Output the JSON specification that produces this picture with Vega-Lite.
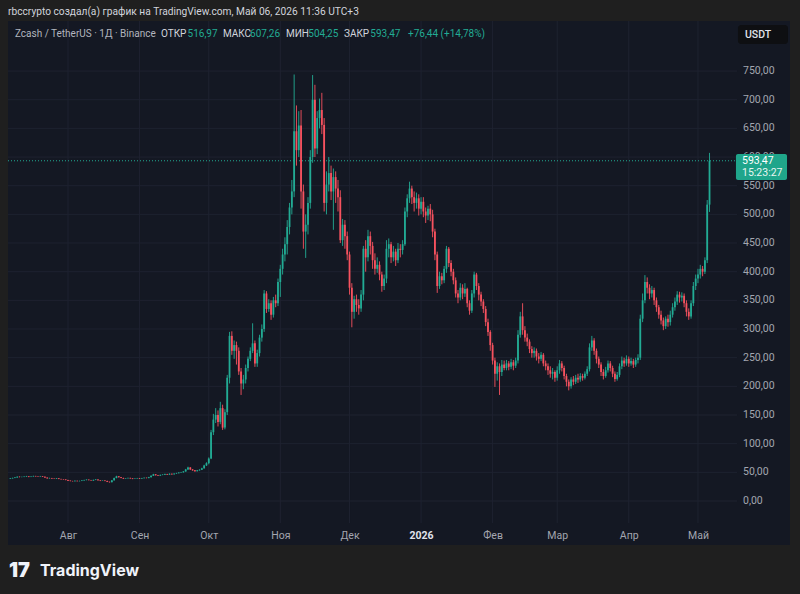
{
"$schema": "https://vega.github.io/schema/vega-lite/v6.json",
"width": 782, "height": 524,
"autosize": {"type": "none"},
"padding": {"left": 8, "top": 21, "right": 10, "bottom": 49},
"background": "#1f1f1f",
"config": {"view": {"fill": "#141823", "stroke": null},
 "axis": {"grid": false, "domain": false, "ticks": false, "labelFont": "Roboto", "labelFontSize": 10.5, "labelColor": "#a3a6af", "labelOverlap": false},
 "scale": {"continuousPadding": 0},
 "locale": {"number": {"decimal": ",", "thousands": " ", "grouping": [3], "currency": ["", ""]}}},
"datasets": {
"candles": [
{"d":"2025-07-07","o":38.8,"h":40.2,"l":38.3,"c":39.5},
{"d":"2025-07-08","o":39.5,"h":40.8,"l":39.0,"c":40.2},
{"d":"2025-07-09","o":40.2,"h":41.6,"l":39.8,"c":41.0},
{"d":"2025-07-10","o":41.0,"h":43.0,"l":40.6,"c":42.3},
{"d":"2025-07-11","o":42.3,"h":42.9,"l":41.2,"c":41.8},
{"d":"2025-07-12","o":41.8,"h":42.6,"l":41.3,"c":42.0},
{"d":"2025-07-13","o":42.0,"h":43.1,"l":41.6,"c":42.5},
{"d":"2025-07-14","o":42.5,"h":43.8,"l":42.0,"c":43.0},
{"d":"2025-07-15","o":43.0,"h":43.4,"l":41.5,"c":42.1},
{"d":"2025-07-16","o":42.1,"h":43.3,"l":41.7,"c":42.8},
{"d":"2025-07-17","o":42.8,"h":44.2,"l":42.4,"c":43.5},
{"d":"2025-07-18","o":43.5,"h":44.0,"l":42.5,"c":43.0},
{"d":"2025-07-19","o":43.0,"h":43.4,"l":42.1,"c":42.6},
{"d":"2025-07-20","o":42.6,"h":43.8,"l":42.2,"c":43.2},
{"d":"2025-07-21","o":43.2,"h":43.6,"l":41.9,"c":42.5},
{"d":"2025-07-22","o":42.5,"h":42.8,"l":40.2,"c":40.8},
{"d":"2025-07-23","o":40.8,"h":41.2,"l":39.0,"c":39.5},
{"d":"2025-07-24","o":39.5,"h":40.6,"l":39.1,"c":40.0},
{"d":"2025-07-25","o":40.0,"h":40.3,"l":38.7,"c":39.2},
{"d":"2025-07-26","o":39.2,"h":39.6,"l":38.3,"c":38.8},
{"d":"2025-07-27","o":38.8,"h":40.1,"l":38.5,"c":39.6},
{"d":"2025-07-28","o":39.6,"h":39.9,"l":38.0,"c":38.5},
{"d":"2025-07-29","o":38.5,"h":38.9,"l":37.3,"c":37.8},
{"d":"2025-07-30","o":37.8,"h":38.3,"l":37.0,"c":37.5},
{"d":"2025-07-31","o":37.5,"h":37.9,"l":36.1,"c":36.6},
{"d":"2025-08-01","o":36.6,"h":37.0,"l":35.0,"c":35.5},
{"d":"2025-08-02","o":35.5,"h":35.9,"l":34.3,"c":34.8},
{"d":"2025-08-03","o":34.8,"h":35.2,"l":34.0,"c":34.5},
{"d":"2025-08-04","o":34.5,"h":35.8,"l":34.1,"c":35.2},
{"d":"2025-08-05","o":35.2,"h":35.6,"l":34.1,"c":34.6},
{"d":"2025-08-06","o":34.6,"h":35.5,"l":34.2,"c":35.0},
{"d":"2025-08-07","o":35.0,"h":36.3,"l":34.7,"c":35.8},
{"d":"2025-08-08","o":35.8,"h":37.1,"l":35.4,"c":36.5},
{"d":"2025-08-09","o":36.5,"h":37.8,"l":36.1,"c":37.2},
{"d":"2025-08-10","o":37.2,"h":37.6,"l":35.9,"c":36.4},
{"d":"2025-08-11","o":36.4,"h":36.8,"l":35.1,"c":35.6},
{"d":"2025-08-12","o":35.6,"h":37.3,"l":35.3,"c":36.8},
{"d":"2025-08-13","o":36.8,"h":38.2,"l":36.4,"c":37.5},
{"d":"2025-08-14","o":37.5,"h":37.8,"l":35.5,"c":36.0},
{"d":"2025-08-15","o":36.0,"h":36.4,"l":34.7,"c":35.2},
{"d":"2025-08-16","o":35.2,"h":36.0,"l":34.9,"c":35.6},
{"d":"2025-08-17","o":35.6,"h":35.9,"l":34.5,"c":35.0},
{"d":"2025-08-18","o":35.0,"h":35.3,"l":33.0,"c":33.5},
{"d":"2025-08-19","o":33.5,"h":33.9,"l":32.2,"c":32.8},
{"d":"2025-08-20","o":32.8,"h":36.5,"l":32.5,"c":36.0},
{"d":"2025-08-21","o":36.0,"h":40.8,"l":35.7,"c":40.0},
{"d":"2025-08-22","o":40.0,"h":44.0,"l":39.6,"c":43.0},
{"d":"2025-08-23","o":43.0,"h":43.5,"l":41.0,"c":41.5},
{"d":"2025-08-24","o":41.5,"h":41.9,"l":39.7,"c":40.2},
{"d":"2025-08-25","o":40.2,"h":40.6,"l":38.5,"c":39.0},
{"d":"2025-08-26","o":39.0,"h":40.0,"l":38.6,"c":39.5},
{"d":"2025-08-27","o":39.5,"h":40.9,"l":39.1,"c":40.3},
{"d":"2025-08-28","o":40.3,"h":40.6,"l":38.9,"c":39.4},
{"d":"2025-08-29","o":39.4,"h":39.8,"l":38.1,"c":38.6},
{"d":"2025-08-30","o":38.6,"h":39.7,"l":38.3,"c":39.2},
{"d":"2025-08-31","o":39.2,"h":40.3,"l":38.9,"c":39.8},
{"d":"2025-09-01","o":39.8,"h":40.2,"l":38.5,"c":39.0},
{"d":"2025-09-02","o":39.0,"h":40.3,"l":38.7,"c":39.8},
{"d":"2025-09-03","o":39.8,"h":41.1,"l":39.4,"c":40.5},
{"d":"2025-09-04","o":40.5,"h":40.9,"l":39.5,"c":40.0},
{"d":"2025-09-05","o":40.0,"h":42.1,"l":39.7,"c":41.5},
{"d":"2025-09-06","o":41.5,"h":44.7,"l":41.2,"c":44.0},
{"d":"2025-09-07","o":44.0,"h":47.4,"l":43.6,"c":46.5},
{"d":"2025-09-08","o":46.5,"h":46.9,"l":44.4,"c":45.0},
{"d":"2025-09-09","o":45.0,"h":45.5,"l":43.6,"c":44.2},
{"d":"2025-09-10","o":44.2,"h":46.1,"l":43.9,"c":45.5},
{"d":"2025-09-11","o":45.5,"h":46.7,"l":45.0,"c":46.0},
{"d":"2025-09-12","o":46.0,"h":47.7,"l":45.6,"c":47.0},
{"d":"2025-09-13","o":47.0,"h":47.4,"l":45.4,"c":46.0},
{"d":"2025-09-14","o":46.0,"h":48.1,"l":45.7,"c":47.5},
{"d":"2025-09-15","o":47.5,"h":47.9,"l":45.9,"c":46.5},
{"d":"2025-09-16","o":46.5,"h":48.4,"l":46.1,"c":47.8},
{"d":"2025-09-17","o":47.8,"h":49.2,"l":47.3,"c":48.5},
{"d":"2025-09-18","o":48.5,"h":50.3,"l":48.1,"c":49.5},
{"d":"2025-09-19","o":49.5,"h":50.8,"l":49.0,"c":50.0},
{"d":"2025-09-20","o":50.0,"h":52.3,"l":49.6,"c":51.5},
{"d":"2025-09-21","o":51.5,"h":56.0,"l":51.0,"c":55.0},
{"d":"2025-09-22","o":55.0,"h":59.8,"l":54.5,"c":58.5},
{"d":"2025-09-23","o":58.5,"h":59.0,"l":54.2,"c":55.0},
{"d":"2025-09-24","o":55.0,"h":55.6,"l":52.7,"c":53.5},
{"d":"2025-09-25","o":53.5,"h":54.0,"l":51.2,"c":52.0},
{"d":"2025-09-26","o":52.0,"h":54.2,"l":51.5,"c":53.5},
{"d":"2025-09-27","o":53.5,"h":55.3,"l":53.0,"c":54.5},
{"d":"2025-09-28","o":54.5,"h":58.0,"l":54.0,"c":57.0},
{"d":"2025-09-29","o":57.0,"h":63.2,"l":56.5,"c":62.0},
{"d":"2025-09-30","o":62.0,"h":67.5,"l":61.0,"c":66.0},
{"d":"2025-10-01","o":66,"h":76,"l":64,"c":74},
{"d":"2025-10-02","o":74,"h":124,"l":73,"c":120},
{"d":"2025-10-03","o":120,"h":152,"l":115,"c":142},
{"d":"2025-10-04","o":142,"h":162,"l":136,"c":150},
{"d":"2025-10-05","o":150,"h":158,"l":130,"c":138},
{"d":"2025-10-06","o":138,"h":173,"l":134,"c":162},
{"d":"2025-10-07","o":162,"h":168,"l":124,"c":128},
{"d":"2025-10-08","o":128,"h":160,"l":125,"c":155},
{"d":"2025-10-09","o":155,"h":220,"l":150,"c":215},
{"d":"2025-10-10","o":215,"h":295,"l":205,"c":288},
{"d":"2025-10-11","o":288,"h":296,"l":255,"c":262},
{"d":"2025-10-12","o":262,"h":280,"l":248,"c":272},
{"d":"2025-10-13","o":272,"h":278,"l":238,"c":262},
{"d":"2025-10-14","o":262,"h":268,"l":220,"c":226},
{"d":"2025-10-15","o":226,"h":232,"l":185,"c":205},
{"d":"2025-10-16","o":205,"h":220,"l":195,"c":212},
{"d":"2025-10-17","o":212,"h":238,"l":205,"c":232},
{"d":"2025-10-18","o":232,"h":252,"l":226,"c":248},
{"d":"2025-10-19","o":248,"h":268,"l":244,"c":262},
{"d":"2025-10-20","o":262,"h":310,"l":258,"c":275},
{"d":"2025-10-21","o":275,"h":280,"l":234,"c":240},
{"d":"2025-10-22","o":240,"h":264,"l":234,"c":258},
{"d":"2025-10-23","o":258,"h":290,"l":252,"c":285},
{"d":"2025-10-24","o":285,"h":308,"l":278,"c":300},
{"d":"2025-10-25","o":300,"h":368,"l":295,"c":362},
{"d":"2025-10-26","o":362,"h":366,"l":328,"c":335},
{"d":"2025-10-27","o":335,"h":352,"l":330,"c":345},
{"d":"2025-10-28","o":345,"h":350,"l":316,"c":325},
{"d":"2025-10-29","o":325,"h":356,"l":320,"c":350},
{"d":"2025-10-30","o":350,"h":360,"l":338,"c":345},
{"d":"2025-10-31","o":345,"h":388,"l":340,"c":382},
{"d":"2025-11-01","o":382,"h":412,"l":356,"c":405},
{"d":"2025-11-02","o":405,"h":440,"l":395,"c":430},
{"d":"2025-11-03","o":430,"h":460,"l":418,"c":448},
{"d":"2025-11-04","o":448,"h":490,"l":430,"c":478},
{"d":"2025-11-05","o":478,"h":520,"l":465,"c":512},
{"d":"2025-11-06","o":512,"h":560,"l":500,"c":540},
{"d":"2025-11-07","o":540,"h":744,"l":530,"c":645},
{"d":"2025-11-08","o":645,"h":690,"l":585,"c":612},
{"d":"2025-11-09","o":612,"h":680,"l":600,"c":655},
{"d":"2025-11-10","o":655,"h":682,"l":510,"c":540},
{"d":"2025-11-11","o":540,"h":552,"l":440,"c":470},
{"d":"2025-11-12","o":470,"h":500,"l":424,"c":482},
{"d":"2025-11-13","o":482,"h":530,"l":465,"c":520},
{"d":"2025-11-14","o":520,"h":612,"l":510,"c":600},
{"d":"2025-11-15","o":600,"h":743,"l":590,"c":700},
{"d":"2025-11-16","o":700,"h":726,"l":600,"c":615},
{"d":"2025-11-17","o":615,"h":680,"l":605,"c":668},
{"d":"2025-11-18","o":668,"h":702,"l":650,"c":682},
{"d":"2025-11-19","o":682,"h":712,"l":640,"c":656},
{"d":"2025-11-20","o":656,"h":668,"l":505,"c":520},
{"d":"2025-11-21","o":520,"h":575,"l":500,"c":552},
{"d":"2025-11-22","o":552,"h":600,"l":540,"c":572},
{"d":"2025-11-23","o":572,"h":585,"l":525,"c":540},
{"d":"2025-11-24","o":540,"h":580,"l":473,"c":565},
{"d":"2025-11-25","o":565,"h":575,"l":520,"c":545},
{"d":"2025-11-26","o":545,"h":560,"l":505,"c":530},
{"d":"2025-11-27","o":530,"h":542,"l":450,"c":455},
{"d":"2025-11-28","o":455,"h":492,"l":445,"c":482},
{"d":"2025-11-29","o":482,"h":490,"l":440,"c":462},
{"d":"2025-11-30","o":462,"h":470,"l":420,"c":430},
{"d":"2025-12-01","o":430,"h":435,"l":360,"c":372},
{"d":"2025-12-02","o":372,"h":380,"l":303,"c":330},
{"d":"2025-12-03","o":330,"h":358,"l":318,"c":352},
{"d":"2025-12-04","o":352,"h":360,"l":330,"c":342},
{"d":"2025-12-05","o":342,"h":352,"l":325,"c":336},
{"d":"2025-12-06","o":336,"h":368,"l":330,"c":360},
{"d":"2025-12-07","o":360,"h":445,"l":350,"c":440},
{"d":"2025-12-08","o":440,"h":455,"l":400,"c":425},
{"d":"2025-12-09","o":425,"h":473,"l":418,"c":462},
{"d":"2025-12-10","o":462,"h":470,"l":430,"c":445},
{"d":"2025-12-11","o":445,"h":452,"l":405,"c":420},
{"d":"2025-12-12","o":420,"h":432,"l":395,"c":405},
{"d":"2025-12-13","o":405,"h":425,"l":398,"c":412},
{"d":"2025-12-14","o":412,"h":418,"l":385,"c":395},
{"d":"2025-12-15","o":395,"h":400,"l":365,"c":375},
{"d":"2025-12-16","o":375,"h":395,"l":368,"c":388},
{"d":"2025-12-17","o":388,"h":455,"l":380,"c":440},
{"d":"2025-12-18","o":440,"h":458,"l":425,"c":448},
{"d":"2025-12-19","o":448,"h":452,"l":415,"c":425},
{"d":"2025-12-20","o":425,"h":445,"l":418,"c":435},
{"d":"2025-12-21","o":435,"h":440,"l":410,"c":420},
{"d":"2025-12-22","o":420,"h":450,"l":415,"c":440},
{"d":"2025-12-23","o":440,"h":448,"l":425,"c":438},
{"d":"2025-12-24","o":438,"h":455,"l":430,"c":448},
{"d":"2025-12-25","o":448,"h":512,"l":445,"c":505},
{"d":"2025-12-26","o":505,"h":535,"l":495,"c":528},
{"d":"2025-12-27","o":528,"h":557,"l":520,"c":545},
{"d":"2025-12-28","o":545,"h":550,"l":518,"c":530},
{"d":"2025-12-29","o":530,"h":540,"l":505,"c":520},
{"d":"2025-12-30","o":520,"h":538,"l":510,"c":528},
{"d":"2025-12-31","o":528,"h":535,"l":498,"c":510},
{"d":"2026-01-01","o":510,"h":530,"l":500,"c":522},
{"d":"2026-01-02","o":522,"h":530,"l":495,"c":505},
{"d":"2026-01-03","o":505,"h":512,"l":485,"c":498},
{"d":"2026-01-04","o":498,"h":515,"l":490,"c":510},
{"d":"2026-01-05","o":510,"h":518,"l":488,"c":500},
{"d":"2026-01-06","o":500,"h":508,"l":460,"c":470},
{"d":"2026-01-07","o":470,"h":475,"l":420,"c":430},
{"d":"2026-01-08","o":430,"h":435,"l":363,"c":375},
{"d":"2026-01-09","o":375,"h":400,"l":370,"c":392},
{"d":"2026-01-10","o":392,"h":398,"l":378,"c":385},
{"d":"2026-01-11","o":385,"h":410,"l":380,"c":405},
{"d":"2026-01-12","o":405,"h":445,"l":398,"c":440},
{"d":"2026-01-13","o":440,"h":443,"l":408,"c":415},
{"d":"2026-01-14","o":415,"h":420,"l":392,"c":400},
{"d":"2026-01-15","o":400,"h":405,"l":378,"c":385},
{"d":"2026-01-16","o":385,"h":390,"l":355,"c":362},
{"d":"2026-01-17","o":362,"h":368,"l":345,"c":355},
{"d":"2026-01-18","o":355,"h":380,"l":350,"c":372},
{"d":"2026-01-19","o":372,"h":378,"l":352,"c":362},
{"d":"2026-01-20","o":362,"h":380,"l":356,"c":370},
{"d":"2026-01-21","o":370,"h":372,"l":338,"c":345},
{"d":"2026-01-22","o":345,"h":350,"l":325,"c":332},
{"d":"2026-01-23","o":332,"h":368,"l":328,"c":362},
{"d":"2026-01-24","o":362,"h":400,"l":355,"c":395},
{"d":"2026-01-25","o":395,"h":398,"l":368,"c":375},
{"d":"2026-01-26","o":375,"h":380,"l":350,"c":360},
{"d":"2026-01-27","o":360,"h":365,"l":340,"c":348},
{"d":"2026-01-28","o":348,"h":352,"l":328,"c":335},
{"d":"2026-01-29","o":335,"h":340,"l":305,"c":312},
{"d":"2026-01-30","o":312,"h":318,"l":288,"c":295},
{"d":"2026-01-31","o":295,"h":298,"l":262,"c":272},
{"d":"2026-02-01","o":272,"h":276,"l":238,"c":245},
{"d":"2026-02-02","o":245,"h":250,"l":199,"c":222},
{"d":"2026-02-03","o":222,"h":242,"l":210,"c":235},
{"d":"2026-02-04","o":235,"h":240,"l":185,"c":225},
{"d":"2026-02-05","o":225,"h":246,"l":218,"c":238},
{"d":"2026-02-06","o":238,"h":245,"l":228,"c":232},
{"d":"2026-02-07","o":232,"h":246,"l":228,"c":240},
{"d":"2026-02-08","o":240,"h":244,"l":228,"c":234},
{"d":"2026-02-09","o":234,"h":248,"l":230,"c":242},
{"d":"2026-02-10","o":242,"h":246,"l":228,"c":236},
{"d":"2026-02-11","o":236,"h":250,"l":232,"c":245},
{"d":"2026-02-12","o":245,"h":298,"l":240,"c":290},
{"d":"2026-02-13","o":290,"h":330,"l":285,"c":322},
{"d":"2026-02-14","o":322,"h":345,"l":290,"c":298},
{"d":"2026-02-15","o":298,"h":305,"l":278,"c":285},
{"d":"2026-02-16","o":285,"h":292,"l":270,"c":278},
{"d":"2026-02-17","o":278,"h":282,"l":258,"c":265},
{"d":"2026-02-18","o":265,"h":270,"l":250,"c":258},
{"d":"2026-02-19","o":258,"h":268,"l":250,"c":262},
{"d":"2026-02-20","o":262,"h":266,"l":245,"c":252},
{"d":"2026-02-21","o":252,"h":258,"l":240,"c":248},
{"d":"2026-02-22","o":248,"h":260,"l":244,"c":255},
{"d":"2026-02-23","o":255,"h":258,"l":235,"c":240},
{"d":"2026-02-24","o":240,"h":245,"l":228,"c":235},
{"d":"2026-02-25","o":235,"h":240,"l":220,"c":228},
{"d":"2026-02-26","o":228,"h":235,"l":215,"c":222},
{"d":"2026-02-27","o":222,"h":232,"l":212,"c":225},
{"d":"2026-02-28","o":225,"h":228,"l":208,"c":215},
{"d":"2026-03-01","o":215,"h":235,"l":210,"c":228},
{"d":"2026-03-02","o":228,"h":246,"l":222,"c":240},
{"d":"2026-03-03","o":240,"h":244,"l":226,"c":232},
{"d":"2026-03-04","o":232,"h":236,"l":212,"c":218},
{"d":"2026-03-05","o":218,"h":222,"l":200,"c":208},
{"d":"2026-03-06","o":208,"h":212,"l":193,"c":200},
{"d":"2026-03-07","o":200,"h":216,"l":196,"c":212},
{"d":"2026-03-08","o":212,"h":218,"l":202,"c":208},
{"d":"2026-03-09","o":208,"h":220,"l":204,"c":215},
{"d":"2026-03-10","o":215,"h":222,"l":206,"c":212},
{"d":"2026-03-11","o":212,"h":223,"l":208,"c":218},
{"d":"2026-03-12","o":218,"h":222,"l":210,"c":215},
{"d":"2026-03-13","o":215,"h":226,"l":212,"c":222},
{"d":"2026-03-14","o":222,"h":235,"l":218,"c":230},
{"d":"2026-03-15","o":230,"h":275,"l":226,"c":268},
{"d":"2026-03-16","o":268,"h":288,"l":262,"c":280},
{"d":"2026-03-17","o":280,"h":284,"l":255,"c":262},
{"d":"2026-03-18","o":262,"h":266,"l":240,"c":248},
{"d":"2026-03-19","o":248,"h":252,"l":232,"c":238},
{"d":"2026-03-20","o":238,"h":242,"l":218,"c":225},
{"d":"2026-03-21","o":225,"h":230,"l":212,"c":218},
{"d":"2026-03-22","o":218,"h":234,"l":215,"c":228},
{"d":"2026-03-23","o":228,"h":245,"l":224,"c":240},
{"d":"2026-03-24","o":240,"h":244,"l":226,"c":232},
{"d":"2026-03-25","o":232,"h":236,"l":216,"c":222},
{"d":"2026-03-26","o":222,"h":226,"l":208,"c":213},
{"d":"2026-03-27","o":213,"h":225,"l":210,"c":220},
{"d":"2026-03-28","o":220,"h":240,"l":216,"c":235},
{"d":"2026-03-29","o":235,"h":252,"l":230,"c":245},
{"d":"2026-03-30","o":245,"h":250,"l":234,"c":240},
{"d":"2026-03-31","o":240,"h":254,"l":236,"c":248},
{"d":"2026-04-01","o":248,"h":252,"l":234,"c":240},
{"d":"2026-04-02","o":240,"h":250,"l":236,"c":244},
{"d":"2026-04-03","o":244,"h":248,"l":232,"c":238},
{"d":"2026-04-04","o":238,"h":250,"l":234,"c":246},
{"d":"2026-04-05","o":246,"h":256,"l":240,"c":250},
{"d":"2026-04-06","o":250,"h":325,"l":246,"c":318},
{"d":"2026-04-07","o":318,"h":362,"l":312,"c":350},
{"d":"2026-04-08","o":350,"h":394,"l":345,"c":382},
{"d":"2026-04-09","o":382,"h":390,"l":362,"c":372},
{"d":"2026-04-10","o":372,"h":378,"l":352,"c":362},
{"d":"2026-04-11","o":362,"h":375,"l":355,"c":368},
{"d":"2026-04-12","o":368,"h":372,"l":342,"c":350},
{"d":"2026-04-13","o":350,"h":355,"l":330,"c":338},
{"d":"2026-04-14","o":338,"h":342,"l":318,"c":325},
{"d":"2026-04-15","o":325,"h":332,"l":308,"c":315},
{"d":"2026-04-16","o":315,"h":320,"l":298,"c":305},
{"d":"2026-04-17","o":305,"h":322,"l":300,"c":318},
{"d":"2026-04-18","o":318,"h":325,"l":304,"c":312},
{"d":"2026-04-19","o":312,"h":332,"l":306,"c":325},
{"d":"2026-04-20","o":325,"h":345,"l":320,"c":338},
{"d":"2026-04-21","o":338,"h":355,"l":332,"c":348},
{"d":"2026-04-22","o":348,"h":366,"l":342,"c":360},
{"d":"2026-04-23","o":360,"h":365,"l":346,"c":355},
{"d":"2026-04-24","o":355,"h":364,"l":348,"c":358},
{"d":"2026-04-25","o":358,"h":362,"l":338,"c":345},
{"d":"2026-04-26","o":345,"h":350,"l":322,"c":330},
{"d":"2026-04-27","o":330,"h":336,"l":316,"c":322},
{"d":"2026-04-28","o":322,"h":350,"l":318,"c":345},
{"d":"2026-04-29","o":345,"h":382,"l":340,"c":375},
{"d":"2026-04-30","o":375,"h":395,"l":368,"c":388},
{"d":"2026-05-01","o":388,"h":405,"l":380,"c":395},
{"d":"2026-05-02","o":395,"h":412,"l":388,"c":405},
{"d":"2026-05-03","o":405,"h":410,"l":392,"c":400},
{"d":"2026-05-04","o":400,"h":425,"l":396,"c":420},
{"d":"2026-05-05","o":420,"h":525,"l":415,"c":516.97},
{"d":"2026-05-06","o":516.97,"h":607.26,"l":504.25,"c":593.47}
],
"hgrid": [{"p":0},{"p":50},{"p":100},{"p":150},{"p":200},{"p":250},{"p":300},{"p":350},{"p":400},{"p":450},{"p":500},{"p":550},{"p":600},{"p":650},{"p":700},{"p":750}],
"vgrid": [{"d":"2025-08-01"},{"d":"2025-09-01"},{"d":"2025-10-01"},{"d":"2025-11-01"},{"d":"2025-12-01"},{"d":"2026-01-01"},{"d":"2026-02-01"},{"d":"2026-03-01"},{"d":"2026-04-01"},{"d":"2026-05-01"}]
},
"layer": [
{"data": {"name": "hgrid"}, "mark": {"type": "rule", "color": "#1e2230", "strokeWidth": 1},
 "encoding": {"y": {"field": "p", "type": "quantitative", "title": null, "axis": null},
  "x": {"datum": {"year": 2025, "month": 7, "date": 6, "utc": true}, "scale": {"type": "utc"}, "title": null},
  "x2": {"datum": {"year": 2026, "month": 5, "date": 17, "hours": 22, "utc": true}}}},
{"data": {"name": "vgrid"}, "mark": {"type": "rule", "color": "#1e2230", "strokeWidth": 1},
 "encoding": {"x": {"field": "d", "type": "temporal", "scale": {"type": "utc"}, "title": null},
  "y": {"datum": -38.4, "title": null, "axis": null}, "y2": {"datum": 837.3}}},
{"data": {"values": [{}]}, "mark": {"type": "rule", "color": "#22ab94", "strokeWidth": 1, "strokeDash": [1, 2]},
 "encoding": {"y": {"datum": 593.47, "title": null, "axis": null},
  "x": {"datum": {"year": 2025, "month": 7, "date": 6, "utc": true}, "scale": {"type": "utc"}, "title": null},
  "x2": {"datum": {"year": 2026, "month": 5, "date": 17, "hours": 11, "utc": true}}}},
{"data": {"name": "candles"}, "mark": {"type": "rule", "strokeWidth": 0.9},
 "encoding": {"x": {"field": "d", "type": "temporal", "scale": {"type": "utc"}, "title": null},
  "y": {"field": "l", "type": "quantitative", "title": null, "axis": null}, "y2": {"field": "h"},
  "color": {"condition": {"test": "datum.o <= datum.c", "value": "#22ab94"}, "value": "#f7525f"}}},
{"data": {"name": "candles"}, "mark": {"type": "bar", "size": 1.8},
 "encoding": {
  "x": {"field": "d", "type": "temporal", "title": null,
   "scale": {"type": "utc", "padding": 0, "nice": false, "domain": [{"year": 2025, "month": 7, "date": 6, "utc": true}, {"year": 2026, "month": 6, "date": 9, "hours": 21, "utc": true}]},
   "axis": {"orient": "bottom", "offset": -15, "title": null, "grid": false, "domain": false, "ticks": false, "labelPadding": 0,
    "values": [{"year": 2025, "month": 8, "date": 1, "utc": true}, {"year": 2025, "month": 9, "date": 1, "utc": true}, {"year": 2025, "month": 10, "date": 1, "utc": true}, {"year": 2025, "month": 11, "date": 1, "utc": true}, {"year": 2025, "month": 12, "date": 1, "utc": true}, {"year": 2026, "month": 1, "date": 1, "utc": true}, {"year": 2026, "month": 2, "date": 1, "utc": true}, {"year": 2026, "month": 3, "date": 1, "utc": true}, {"year": 2026, "month": 4, "date": 1, "utc": true}, {"year": 2026, "month": 5, "date": 1, "utc": true}],
    "labelExpr": "utcmonth(datum.value) == 0 ? '' + utcyear(datum.value) : ['Янв','Фев','Мар','Апр','Май','Июн','Июл','Авг','Сен','Окт','Ноя','Дек'][utcmonth(datum.value)]",
    "labelFont": "Roboto", "labelFontSize": 10.5, "labelOverlap": false, "labelFlush": false, "labelBound": false, "labelBaseline": "top",
    "labelColor": {"condition": {"test": "utcmonth(datum.value) == 0", "value": "#e0e3eb"}, "value": "#a3a6af"},
    "labelFontWeight": {"condition": {"test": "utcmonth(datum.value) == 0", "value": "bold"}, "value": "normal"}}},
  "y": {"field": "o", "type": "quantitative", "title": null, "axis": null,
   "scale": {"domain": [-76.75, 837.3], "nice": false, "zero": false, "padding": 0}},
  "y2": {"field": "c"},
  "color": {"condition": {"test": "datum.o <= datum.c", "value": "#22ab94"}, "value": "#f7525f"}}},
{"data": {"name": "hgrid"}, "mark": {"type": "text", "align": "left", "baseline": "middle", "font": "Roboto", "fontSize": 10.5, "color": "#a3a6af"},
 "encoding": {"y": {"field": "p", "type": "quantitative", "title": null, "axis": null},
  "x": {"datum": {"year": 2026, "month": 5, "date": 20, "hours": 12, "utc": true}, "scale": {"type": "utc"}, "title": null},
  "text": {"field": "p", "type": "quantitative", "format": ".2f"}}},
{"data": {"values": [{}]}, "mark": {"type": "rect", "color": "#1fa58b", "cornerRadius": 2},
 "encoding": {"x": {"datum": {"year": 2026, "month": 5, "date": 17, "hours": 11, "utc": true}, "scale": {"type": "utc"}, "title": null},
  "x2": {"datum": {"year": 2026, "month": 6, "date": 8, "hours": 14, "utc": true}},
  "y": {"datum": 605.3, "title": null, "axis": null}, "y2": {"datum": 559.9}}},
{"data": {"values": [{}]}, "mark": {"type": "text", "align": "left", "baseline": "middle", "font": "Roboto", "fontSize": 10.5, "color": "#ffffff"},
 "encoding": {"x": {"datum": {"year": 2026, "month": 5, "date": 20, "hours": 2, "utc": true}, "scale": {"type": "utc"}, "title": null},
  "y": {"datum": 593.5, "title": null, "axis": null}, "text": {"value": "593,47"}}},
{"data": {"values": [{}]}, "mark": {"type": "text", "align": "left", "baseline": "middle", "font": "Roboto", "fontSize": 10.5, "color": "#e8f5f1"},
 "encoding": {"x": {"datum": {"year": 2026, "month": 5, "date": 20, "hours": 2, "utc": true}, "scale": {"type": "utc"}, "title": null},
  "y": {"datum": 572.2, "title": null, "axis": null}, "text": {"value": "15:23:27"}}},
{"data": {"values": [{}]}, "mark": {"type": "rect", "color": "#0e0f12", "cornerRadius": 3},
 "encoding": {"x": {"datum": {"year": 2026, "month": 5, "date": 18, "hours": 8, "utc": true}, "scale": {"type": "utc"}, "title": null},
  "x2": {"datum": {"year": 2026, "month": 6, "date": 9, "utc": true}},
  "y": {"datum": 830.3, "title": null, "axis": null}, "y2": {"datum": 797.2}}},
{"data": {"values": [{}]}, "mark": {"type": "text", "align": "left", "baseline": "middle", "font": "Roboto", "fontSize": 10.5, "fontWeight": 500, "color": "#e0e3eb"},
 "encoding": {"x": {"datum": {"year": 2026, "month": 5, "date": 21, "hours": 9, "utc": true}, "scale": {"type": "utc"}, "title": null},
  "y": {"datum": 813, "title": null, "axis": null}, "text": {"value": "USDT"}}},
{"data": {"values": [{}]}, "mark": {"type": "text", "align": "left", "baseline": "middle", "font": "Roboto", "fontSize": 10.2, "color": "#d1d4dc"},
 "encoding": {"x": {"datum": {"year": 2025, "month": 7, "date": 6, "utc": true}, "scale": {"type": "utc"}, "title": null},
  "y": {"datum": 853, "title": null, "axis": null}, "text": {"value": "rbccrypto создал(а) график на TradingView.com, Май 06, 2026 11:36 UTC+3"}}},
{"data": {"values": [{}]}, "mark": {"type": "text", "align": "left", "baseline": "middle", "font": "Roboto", "fontSize": 10, "color": "#b2b5be"},
 "encoding": {"x": {"datum": {"year": 2025, "month": 7, "date": 9, "utc": true}, "scale": {"type": "utc"}, "title": null},
  "y": {"datum": 814, "title": null, "axis": null}, "text": {"value": "Zcash / TetherUS · 1Д · Binance"}}},
{"data": {"values": [{}]}, "mark": {"type": "text", "align": "left", "baseline": "middle", "font": "Roboto", "fontSize": 10, "color": "#d1d4dc"},
 "encoding": {"x": {"datum": {"year": 2025, "month": 9, "date": 10, "hours": 7, "utc": true}, "scale": {"type": "utc"}, "title": null},
  "y": {"datum": 814, "title": null, "axis": null}, "text": {"value": "ОТКР"}}},
{"data": {"values": [{}]}, "mark": {"type": "text", "align": "left", "baseline": "middle", "font": "Roboto", "fontSize": 10, "color": "#22ab94"},
 "encoding": {"x": {"datum": {"year": 2025, "month": 9, "date": 21, "hours": 19, "utc": true}, "scale": {"type": "utc"}, "title": null},
  "y": {"datum": 814, "title": null, "axis": null}, "text": {"value": "516,97"}}},
{"data": {"values": [{}]}, "mark": {"type": "text", "align": "left", "baseline": "middle", "font": "Roboto", "fontSize": 10, "color": "#d1d4dc"},
 "encoding": {"x": {"datum": {"year": 2025, "month": 10, "date": 7, "hours": 4, "utc": true}, "scale": {"type": "utc"}, "title": null},
  "y": {"datum": 814, "title": null, "axis": null}, "text": {"value": "МАКС"}}},
{"data": {"values": [{}]}, "mark": {"type": "text", "align": "left", "baseline": "middle", "font": "Roboto", "fontSize": 10, "color": "#22ab94"},
 "encoding": {"x": {"datum": {"year": 2025, "month": 10, "date": 18, "hours": 21, "utc": true}, "scale": {"type": "utc"}, "title": null},
  "y": {"datum": 814, "title": null, "axis": null}, "text": {"value": "607,26"}}},
{"data": {"values": [{}]}, "mark": {"type": "text", "align": "left", "baseline": "middle", "font": "Roboto", "fontSize": 10, "color": "#d1d4dc"},
 "encoding": {"x": {"datum": {"year": 2025, "month": 11, "date": 3, "hours": 11, "utc": true}, "scale": {"type": "utc"}, "title": null},
  "y": {"datum": 814, "title": null, "axis": null}, "text": {"value": "МИН"}}},
{"data": {"values": [{}]}, "mark": {"type": "text", "align": "left", "baseline": "middle", "font": "Roboto", "fontSize": 10, "color": "#22ab94"},
 "encoding": {"x": {"datum": {"year": 2025, "month": 11, "date": 13, "hours": 3, "utc": true}, "scale": {"type": "utc"}, "title": null},
  "y": {"datum": 814, "title": null, "axis": null}, "text": {"value": "504,25"}}},
{"data": {"values": [{}]}, "mark": {"type": "text", "align": "left", "baseline": "middle", "font": "Roboto", "fontSize": 10, "color": "#d1d4dc"},
 "encoding": {"x": {"datum": {"year": 2025, "month": 11, "date": 28, "hours": 14, "utc": true}, "scale": {"type": "utc"}, "title": null},
  "y": {"datum": 814, "title": null, "axis": null}, "text": {"value": "ЗАКР"}}},
{"data": {"values": [{}]}, "mark": {"type": "text", "align": "left", "baseline": "middle", "font": "Roboto", "fontSize": 10, "color": "#22ab94"},
 "encoding": {"x": {"datum": {"year": 2025, "month": 12, "date": 10, "utc": true}, "scale": {"type": "utc"}, "title": null},
  "y": {"datum": 814, "title": null, "axis": null}, "text": {"value": "593,47"}}},
{"data": {"values": [{}]}, "mark": {"type": "text", "align": "left", "baseline": "middle", "font": "Roboto", "fontSize": 10, "color": "#22ab94"},
 "encoding": {"x": {"datum": {"year": 2025, "month": 12, "date": 26, "hours": 8, "utc": true}, "scale": {"type": "utc"}, "title": null},
  "y": {"datum": 814, "title": null, "axis": null}, "text": {"value": "+76,44 (+14,78%)"}}},
{"data": {"values": [{}]}, "mark": {"type": "text", "align": "left", "baseline": "middle", "font": "Inter", "fontSize": 20, "fontWeight": 900, "color": "#f0f3fa"},
 "encoding": {"x": {"datum": {"year": 2025, "month": 7, "date": 6, "hours": 10, "utc": true}, "scale": {"type": "utc"}, "title": null},
  "y": {"datum": -122.1, "title": null, "axis": null}, "text": {"value": "17"}}},
{"data": {"values": [{}]}, "mark": {"type": "text", "align": "left", "baseline": "middle", "font": "Inter", "fontSize": 16, "fontWeight": "bold", "color": "#f0f3fa"},
 "encoding": {"x": {"datum": {"year": 2025, "month": 7, "date": 19, "hours": 21, "utc": true}, "scale": {"type": "utc"}, "title": null},
  "y": {"datum": -122.1, "title": null, "axis": null}, "text": {"value": "TradingView"}}}
]
}
